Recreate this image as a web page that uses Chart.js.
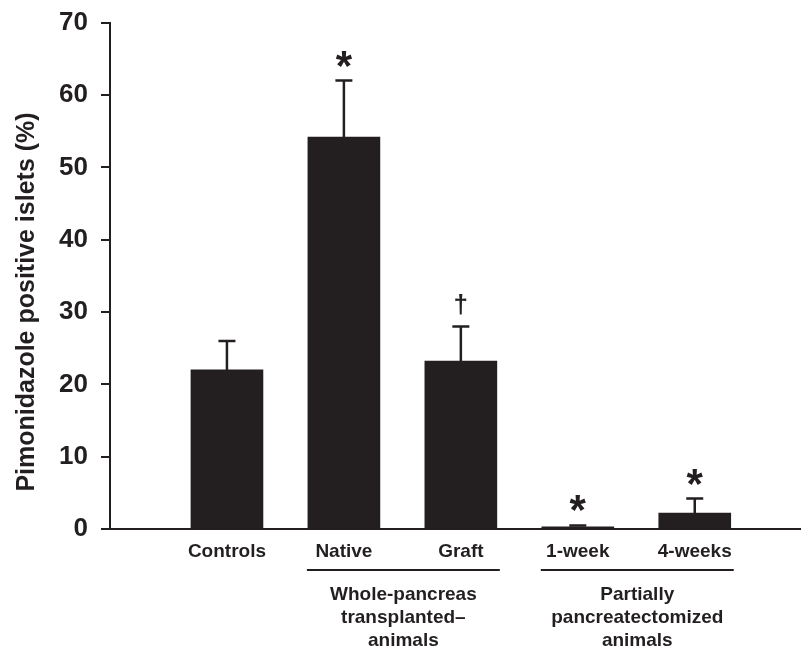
<!DOCTYPE html>
<html><head><meta charset="utf-8">
<script src="https://cdn.jsdelivr.net/npm/chart.js@4.4.1/dist/chart.umd.min.js"></script>
<style>html,body{margin:0;padding:0;background:#fff;}#wrap{width:803px;height:648px;position:relative;}</style>
</head><body><div id="wrap"><canvas id="c" width="803" height="648"></canvas></div>
<script>
const categories = ["Controls", "Native", "Graft", "1-week", "4-weeks"];
const meanValues = [22.0, 54.2, 23.2, 0.3, 2.2];
const errorTops = [26.0, 62.0, 28.0, 0.5, 4.2];
const markers = ["", "*", "\u2020", "*", "*"];
const groupLabels = [
  { from: 1, to: 2, lines: ["Whole-pancreas", "transplanted\u2013", "animals"] },
  { from: 3, to: 4, lines: ["Partially", "pancreatectomized", "animals"] }
];
const yTicks = [0, 10, 20, 30, 40, 50, 60, 70];
const yTitle = "Pimonidazole positive islets (%)";

const INK = '#231f20';
const FONT = '"Liberation Sans", Arial, Helvetica, sans-serif';

const annot = {
  id: 'annot',
  afterDatasetsDraw(chart) {
    const ctx = chart.ctx, xs = chart.scales.x, ys = chart.scales.y;
    ctx.save();
    ctx.strokeStyle = INK; ctx.fillStyle = INK; ctx.lineWidth = 2.5;
    categories.forEach((c, i) => {
      const x = xs.getPixelForValue(i + 1);
      const yTop = ys.getPixelForValue(meanValues[i]);
      const yErr = ys.getPixelForValue(errorTops[i]);
      ctx.beginPath();
      ctx.moveTo(x, yTop); ctx.lineTo(x, yErr);
      ctx.moveTo(x - 8.5, yErr); ctx.lineTo(x + 8.5, yErr);
      ctx.stroke();
      if (markers[i]) {
        const isStar = markers[i] === '*';
        ctx.font = 'bold ' + (isStar ? 42 : 26) + 'px ' + FONT;
        ctx.textAlign = 'center'; ctx.textBaseline = 'alphabetic';
        const m = ctx.measureText(markers[i]);
        const cy = yErr - 22;
        const base = cy + (m.actualBoundingBoxAscent - m.actualBoundingBoxDescent) / 2;
        ctx.fillText(markers[i], x, base);
      }
    });
    ctx.restore();
  },
  afterDraw(chart) {
    const ctx = chart.ctx, xs = chart.scales.x, ys = chart.scales.y;
    ctx.save();
    ctx.strokeStyle = INK; ctx.fillStyle = INK; ctx.lineWidth = 2;
    const lineY = xs.bottom - 78;
    groupLabels.forEach(g => {
      const x1 = xs.getPixelForValue(g.from + 1) - 37;
      const x2 = xs.getPixelForValue(g.to + 1) + 39;
      ctx.beginPath(); ctx.moveTo(x1, lineY); ctx.lineTo(x2, lineY); ctx.stroke();
      ctx.font = 'bold 19px ' + FONT;
      ctx.textAlign = 'center'; ctx.textBaseline = 'alphabetic';
      g.lines.forEach((t, k) => ctx.fillText(t, (x1 + x2) / 2, lineY + 30 + k * 23));
    });
    // y axis title
    ctx.translate(34, 302);
    ctx.rotate(-Math.PI / 2);
    ctx.font = 'bold 25px ' + FONT;
    ctx.textAlign = 'center'; ctx.textBaseline = 'alphabetic';
    ctx.fillText(yTitle, 0, 0);
    ctx.restore();
  }
};

new Chart(document.getElementById('c'), {
  type: 'bar',
  data: {
    datasets: [{
      data: categories.map((c, i) => ({ x: i + 1, y: meanValues[i] })),
      backgroundColor: INK,
      borderWidth: 0,
      barThickness: 72
    }]
  },
  options: {
    responsive: false,
    animation: false,
    events: [],
    layout: { padding: { top: 22.7, right: 3, left: 0, bottom: 0 } },
    plugins: { legend: { display: false }, tooltip: { enabled: false }, title: { display: false } },
    scales: {
      x: {
        type: 'linear',
        offset: false,
        min: 0, max: 5.9,
        afterBuildTicks: s => { s.ticks = categories.map((c, i) => ({ value: i + 1 })); },
        afterFit: s => { s.height = 648 - 529; },
        grid: { display: false, drawTicks: false, offset: false },
        border: { display: true, color: INK, width: 2 },
        ticks: {
          color: INK, padding: 11, maxRotation: 0, autoSkip: false,
          font: { family: FONT, size: 19, weight: 'bold' },
          callback: v => categories[v - 1] || ''
        }
      },
      y: {
        min: 0, max: 70,
        afterBuildTicks: s => { s.ticks = yTicks.map(v => ({ value: v })); },
        afterFit: s => { s.width = 110; s.paddingTop = 0; s.paddingBottom = 0; },
        grid: { display: true, drawOnChartArea: false, drawTicks: true, tickLength: 9, color: INK, lineWidth: 2 },
        border: { display: true, color: INK, width: 2 },
        ticks: { color: INK, padding: 13, font: { family: FONT, size: 26, weight: 'bold' } }
      }
    }
  },
  plugins: [annot]
});
</script></body></html>
